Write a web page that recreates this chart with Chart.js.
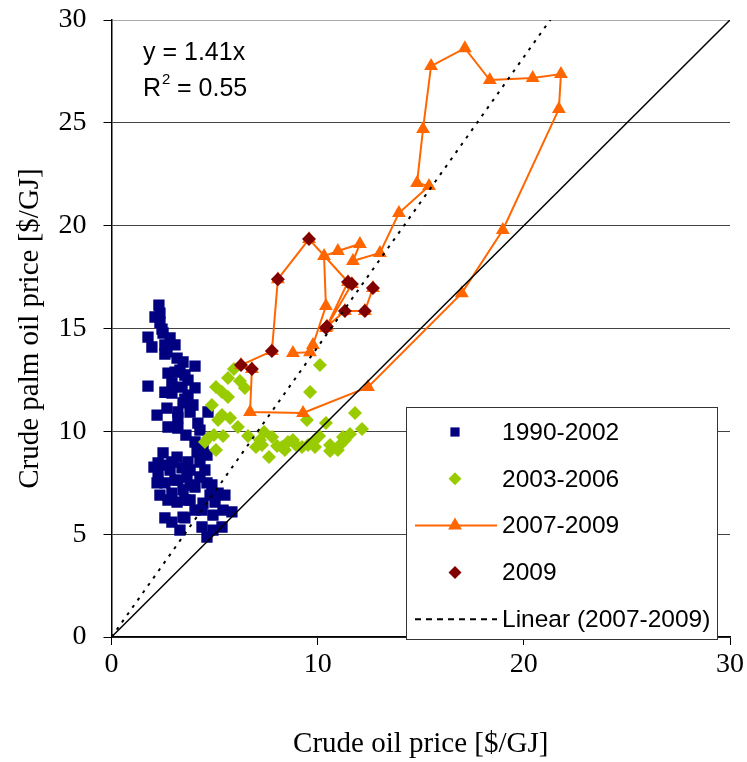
<!DOCTYPE html>
<html>
<head>
<meta charset="utf-8">
<script src="https://cdn.jsdelivr.net/npm/chart.js@4.4.0/dist/chart.umd.min.js"></script>
<style>
  html, body { margin: 0; padding: 0; background: #fff; }
  #wrap { width: 747px; height: 762px; }
</style>
</head>
<body>
<div id="wrap"><canvas id="chart"></canvas></div>
<script>
// Values, all in $/GJ (x = crude oil, y = crude palm oil)
const xTicks = [0, 10, 20, 30];
const yTicks = [0, 5, 10, 15, 20, 25, 30];

const oil9002 = [2.30, 2.11, 2.35, 1.77, 1.96, 2.50, 2.84, 2.69, 3.18, 3.47, 4.05, 2.74, 3.32, 3.71, 1.77, 2.93,
  3.42, 4.05, 2.93, 3.71, 3.47, 3.95, 2.69, 2.21, 3.22, 2.74, 4.68, 4.19, 4.29, 4.05, 4.44, 3.08, 3.56, 3.22,
  2.45, 2.59, 2.50, 2.26, 3.18, 3.71, 4.29, 2.26, 2.84, 3.42, 2.59, 3.08, 3.66, 4.29, 2.93, 3.47, 4.05, 4.63,
  4.87, 5.17, 3.18, 3.81, 4.44, 5.02, 2.59, 2.93, 3.47, 4.39, 5.41, 5.84, 5.36, 4.39, 4.63, 2.93, 3.81, 2.35,
  4.78, 2.06, 3.56,
  2.59, 3.08, 2.35, 3.56, 2.59, 3.22, 3.81, 3.61, 4.15, 4.63,
  2.59, 3.22, 3.81, 4.53, 2.74, 4.05, 3.32, 4.92, 5.50, 4.92, 2.21, 3.56];
const palm9002 = [16.14, 15.56, 15.75, 14.58, 14.10, 14.78, 14.54, 13.86, 13.56, 13.37, 13.17, 12.83, 12.98, 12.49, 12.20, 12.35,
  12.15, 12.11, 11.86, 11.76, 11.38, 11.28, 11.13, 10.79, 10.65, 10.21, 10.94, 10.40, 10.06, 9.48, 9.33, 12.88, 11.57, 10.94,
  14.97, 13.76, 8.95, 8.46, 8.75, 8.51, 8.51, 7.97, 8.12, 8.22, 7.49, 7.63, 7.78, 7.78, 7.00, 7.15, 7.29, 7.49,
  7.39, 7.00, 6.56, 6.66, 6.51, 6.56, 5.79, 5.59, 5.83, 6.17, 6.17, 6.08, 5.35, 5.35, 4.86, 8.51, 7.39, 6.90,
  6.90, 8.26, 5.79,
  14.20, 14.20, 15.30, 12.74, 11.90, 10.16, 10.94, 9.82, 8.99, 8.85,
  8.36, 7.63, 8.12, 8.12, 6.66, 6.17, 5.20, 5.93, 6.90, 5.20, 7.49, 6.66];

const oil0306 = [5.94, 5.65, 5.07, 5.36, 5.65, 6.47, 4.87, 5.36, 5.75, 6.13, 4.97, 4.53, 5.41, 5.07, 6.62, 7.01,
  7.40, 7.79, 8.03, 7.64, 8.56, 8.95, 9.24, 9.53, 9.48, 9.63, 10.11, 10.07, 10.40, 10.60, 10.60, 11.23, 11.57,
  11.81, 12.15, 8.27, 4.68, 7.30, 9.77, 8.80, 11.08, 6.23, 5.17, 7.20, 8.41, 9.87, 10.98, 11.32];
const palm0306 = [13.03, 12.59, 12.15, 11.91, 11.67, 12.11, 11.28, 10.79, 10.65, 10.21, 9.82, 9.48, 9.77, 9.09, 9.77, 9.24,
  9.97, 9.72, 9.29, 8.75, 9.48, 9.33, 9.24, 9.33, 10.55, 11.91, 13.22, 9.77, 10.40, 9.33, 9.04, 9.72, 9.87,
  10.89, 10.11, 9.24, 9.67, 9.33, 9.48, 9.58, 9.33, 12.45, 10.55, 9.58, 9.09, 9.24, 9.09, 9.58];

// 2007-2008 monthly, Jan 2007 .. Dec 2008
const oil0708 = [8.80, 9.63, 9.77, 10.40, 10.31, 10.98, 12.05, 11.71, 13.02, 13.94, 15.40, 14.82,
  15.11, 15.50, 17.14, 18.35, 20.43, 21.80, 21.70, 18.98, 16.99, 12.44, 9.29, 6.72];
const palm0708 = [13.81, 13.85, 14.20, 16.09, 18.52, 18.77, 19.11, 18.28, 18.67, 20.61, 21.93, 22.07,
  24.70, 27.76, 28.63, 27.08, 27.18, 27.37, 25.67, 19.79, 16.72, 12.15, 10.89, 10.94];

// 2009 monthly
const oil09 = [6.81, 6.28, 7.78, 8.07, 9.58, 11.47, 10.40, 11.66, 10.45, 11.32, 12.29, 12.68];
const palm09 = [13.03, 13.22, 13.90, 17.40, 19.35, 17.26, 15.02, 17.16, 15.10, 15.85, 15.85, 16.97];

// linear fit through the origin for 2007-2009, as printed on the chart
const trendSlope = 1.41;
const trendR2 = 0.55;
const trendX = [0, 21.8];
const diagX = [0, 30];

const toPts = (xs, ys) => xs.map((x, i) => ({ x: x, y: ys[i] }));

const oil0709 = oil0708.concat(oil09);
const palm0709 = palm0708.concat(palm09);

const serif = "'Liberation Serif', 'Times New Roman', serif";
const sans = "'Liberation Sans', Arial, sans-serif";

function mark(ctx, style, x, y, r, color) {
    ctx.fillStyle = color;
    ctx.beginPath();
    if (style === 'rect') {
        const s = r * Math.SQRT1_2;
        ctx.rect(x - s, y - s, 2 * s, 2 * s);
    } else if (style === 'rectRot') {
        ctx.moveTo(x, y - r); ctx.lineTo(x + r, y); ctx.lineTo(x, y + r); ctx.lineTo(x - r, y);
        ctx.closePath();
    } else {
        ctx.moveTo(x, y - r);
        ctx.lineTo(x + 0.866 * r, y + 0.5 * r);
        ctx.lineTo(x - 0.866 * r, y + 0.5 * r);
        ctx.closePath();
    }
    ctx.fill();
}

// Legend box inside the plot, bottom right, plus fit equation top left
const boxPlugin = {
    id: 'boxLegend',
    afterDraw(chart) {
        const ctx = chart.ctx;
        const ds = chart.data.datasets;
        ctx.save();
        ctx.fillStyle = '#fff';
        ctx.strokeStyle = '#333';
        ctx.lineWidth = 1;
        ctx.fillRect(406, 407, 311, 232);
        ctx.strokeRect(406.5, 407.5, 311, 232);

        const rows = [5, 4, 3, 2, 0];
        ctx.font = '24.5px ' + sans;
        ctx.textBaseline = 'middle';
        ctx.textAlign = 'left';
        rows.forEach((di, i) => {
            const d = ds[di];
            const y = 432 + i * 46.8;
            if (d.showLine) {
                ctx.strokeStyle = d.borderColor;
                ctx.lineWidth = d.borderWidth;
                ctx.setLineDash(d.legendDash || []);
                ctx.beginPath();
                ctx.moveTo(415, y); ctx.lineTo(497, y);
                ctx.stroke();
                ctx.setLineDash([]);
            }
            if (d.pointRadius > 0) {
                mark(ctx, d.pointStyle, 455, y, d.pointStyle === 'triangle' ? 8 : 6.5, d.backgroundColor);
            }
            ctx.fillStyle = '#000';
            ctx.fillText(d.label, 502, y + 1);
        });

        ctx.font = '25px ' + sans;
        ctx.fillStyle = '#000';
        ctx.fillText('y = ' + trendSlope + 'x', 143, 53);
        ctx.fillText('R', 143, 89);
        const rw = ctx.measureText('R').width;
        ctx.font = '15px ' + sans;
        ctx.fillText('2', 143 + rw + 1, 80);
        ctx.font = '25px ' + sans;
        ctx.fillText(' = ' + trendR2.toFixed(2), 143 + rw + 9, 89);
        ctx.restore();
    }
};

const ctx = document.getElementById('chart').getContext('2d');
new Chart(ctx, {
    type: 'scatter',
    data: {
        datasets: [{
            label: 'Linear (2007-2009)',
            data: trendX.map(x => ({ x: x, y: trendSlope * x })),
            showLine: true,
            borderColor: '#000',
            backgroundColor: '#000',
            borderWidth: 2,
            borderDash: [3, 6],
            legendDash: [6, 5],
            pointRadius: 0
        }, {
            label: '1:1',
            data: toPts(diagX, diagX),
            showLine: true,
            borderColor: '#000',
            borderWidth: 1.5,
            pointRadius: 0
        }, {
            label: '2009',
            data: toPts(oil09, palm09),
            pointStyle: 'rectRot',
            pointRadius: 7,
            backgroundColor: '#800000',
            borderColor: '#800000',
            pointBorderWidth: 0
        }, {
            label: '2007-2009',
            data: toPts(oil0709, palm0709),
            showLine: true,
            borderColor: '#ff6600',
            borderWidth: 2,
            pointStyle: 'triangle',
            pointRadius: 8,
            backgroundColor: '#ff6600',
            pointBorderWidth: 0
        }, {
            label: '2003-2006',
            data: toPts(oil0306, palm0306),
            pointStyle: 'rectRot',
            pointRadius: 7,
            backgroundColor: '#99cc00',
            borderColor: '#99cc00',
            pointBorderWidth: 0
        }, {
            label: '1990-2002',
            data: toPts(oil9002, palm9002),
            pointStyle: 'rect',
            pointRadius: 8,
            backgroundColor: '#000080',
            borderColor: '#000080',
            pointBorderWidth: 0
        }]
    },
    options: {
        responsive: true,
        maintainAspectRatio: false,
        animation: false,
        layout: { padding: { top: 20, right: 17, left: 0, bottom: 0 } },
        plugins: { legend: { display: false }, tooltip: { enabled: false } },
        scales: {
            x: {
                min: 0, max: 30,
                afterBuildTicks: s => { s.ticks = xTicks.map(v => ({ value: v })); },
                afterFit: s => { s.height = 125; s.paddingLeft = 0; s.paddingRight = 0; },
                border: { color: '#000', width: 1.5 },
                grid: { drawOnChartArea: false, tickLength: 8, tickColor: '#000' },
                ticks: { color: '#000', font: { family: serif, size: 28 }, padding: 3, maxRotation: 0 },
                title: { display: true, text: 'Crude oil price [$/GJ]', color: '#000', font: { family: serif, size: 29 }, padding: 0 }
            },
            y: {
                min: 0, max: 30,
                afterBuildTicks: s => { s.ticks = yTicks.map(v => ({ value: v })); },
                afterFit: s => { s.width = 111.5; s.paddingTop = 0; s.paddingBottom = 0; },
                border: { color: '#000', width: 1.5 },
                grid: {
                    color: c => (c.tick && c.tick.value === 30 ? '#aaa' : '#444'),
                    lineWidth: 1,
                    tickLength: 8,
                    tickColor: '#000'
                },
                ticks: { color: '#000', font: { family: serif, size: 28 }, padding: 17 },
                title: { display: true, text: 'Crude palm oil price [$/GJ]', color: '#000', font: { family: serif, size: 29 }, padding: { top: 13, bottom: 0 } }
            }
        }
    },
    plugins: [boxPlugin]
});
</script>
</body>
</html>
